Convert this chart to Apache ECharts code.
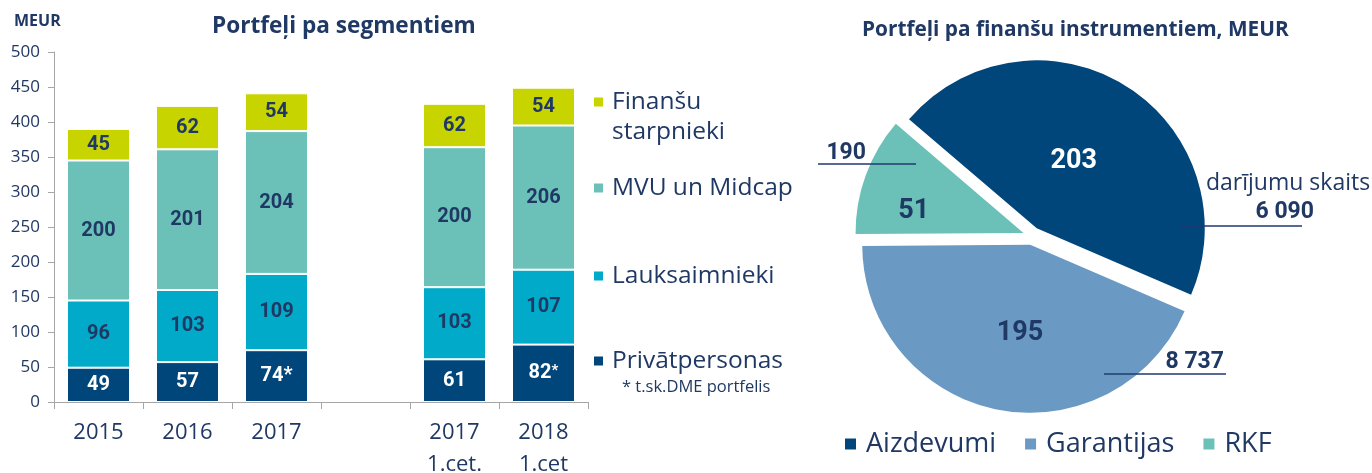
<!DOCTYPE html>
<html>
<head>
<meta charset="utf-8">
<script src="https://cdn.jsdelivr.net/npm/echarts@6/dist/echarts.min.js"></script>
<style>
  html,body{margin:0;padding:0;background:#fff;}
  #chart{width:1372px;height:473px;}
</style>
</head>
<body>
<div id="chart"></div>
<script>
/* Portfeļi pa segmentiem + pa finanšu instrumentiem */
const categories = ["2015", "2016", "2017", "", "2017\n1.cet.", "2018\n1.cet"];
const privat   = [49, 57, 74, null, 61, 82];
const lauks    = [96, 103, 109, null, 103, 107];
const mvu      = [200, 201, 204, null, 200, 206];
const finStarp = [45, 62, 54, null, 62, 54];
const privNote = ["", "", "*", "", "", "{s|*}"];
const segNames = ["Finanšu starpnieki", "MVU un Midcap", "Lauksaimnieki", "Privātpersonas"];

const instrNames = ["Aizdevumi", "Garantijas", "RKF"];
const instrValues = [203, 195, 51];
const dealCounts = [6090, 8737, 190];

const TXT = "#1f3864";
const COL = {fin:"#c8d400", mvu:"#6bc1b7", lauks:"#00aac8", priv:"#00467a", garant:"#6a9ac4"};
const REG = "Open Sans", BLD = "Roboto";
const thou = n => String(n).replace(/\B(?=(\d{3})+(?!\d))/g, " ");

const chart = echarts.init(document.getElementById("chart"), null, {renderer:"canvas"});

const barLabel = (color) => ({
  show:true, position:"inside", color, fontFamily:BLD, fontWeight:"bold", fontSize:20
});
const barSeries = (name, data, color, lblColor, fmt) => ({
  name, type:"bar", stack:"seg", data, barWidth:63,
  itemStyle:{color, borderColor:"#fff", borderWidth:1},
  label:Object.assign(barLabel(lblColor), fmt ? {formatter:fmt, rich:{s:{fontFamily:BLD, fontWeight:"bold", fontSize:15, color:lblColor, verticalAlign:"top", lineHeight:20}}} : {}),
  emphasis:{disabled:true}
});

// leģendas pozīcijas (ikonas centrs)
const legCenters = [102, 188, 276, 361];
const segLegends = segNames.map((n, i) => ({
  data:[n], left:592, top: i === 0 ? legCenters[0] - 45 : legCenters[i] - 15,
  orient:"vertical", icon:"rect", itemWidth:11, itemHeight:11, padding:0,
  selectedMode:false,
  formatter: i === 0 ? " \nFinanšu\nstarpnieki" : "{name}",
  textStyle:{fontFamily:REG, fontSize:24.5, color:TXT, lineHeight:30, padding:[0,0,0,3]}
}));

// darījumu skaita piezīmes pie pīrāga
const notePos = [
  {tx:1314, ty:212, x1:1180, x2:1302, ly:226},
  {tx:1224, ty:362, x1:1104, x2:1226, ly:374},
  {tx:866,  ty:153, x1:818,  x2:916,  ly:164}
];
const noteGraphics = [];
dealCounts.forEach((c, i) => {
  const p = notePos[i];
  noteGraphics.push({type:"text", x:p.tx, y:p.ty, z:10,
    style:{text:thou(c), font:`bold 23px ${BLD}`, fill:TXT, textAlign:"right", textVerticalAlign:"middle"}});
  noteGraphics.push({type:"line", z:10,
    shape:{x1:p.x1, y1:p.ly, x2:p.x2, y2:p.ly}, style:{stroke:"#1f3a6e", lineWidth:1.5}});
});
noteGraphics.push({type:"text", x:1206, y:183, z:10,
  style:{text:"darījumu skaits", font:`23px ${REG}`, fill:TXT, textAlign:"left", textVerticalAlign:"middle"}});

const pieColors = [COL.priv, COL.garant, COL.mvu];
const pieLblColor = ["#fff", TXT, TXT];
const piePad = [[0,18,0,0], [0,0,0,14], [0,56,0,0]];
const pieDrop = [14, 6, 16];

chart.setOption({
  animation:false,
  textStyle:{fontFamily:REG, color:TXT},
  title:[
    {text:"MEUR", left:14, top:13, padding:0, textStyle:{fontFamily:REG, fontWeight:"bold", fontSize:16, color:TXT}},
    {text:"Portfeļi pa segmentiem", left:212, top:15, padding:0, textStyle:{fontFamily:REG, fontWeight:"bold", fontSize:22.6, color:TXT}},
    {text:"Portfeļi pa finanšu instrumentiem, MEUR", left:862, top:20, padding:0, textStyle:{fontFamily:REG, fontWeight:"bold", fontSize:20.8, color:TXT}},
    {text:"* t.sk.DME portfelis", left:622, top:379, padding:0, textStyle:{fontFamily:REG, fontWeight:"normal", fontSize:16.5, color:TXT}}
  ],
  legend:[
    ...segLegends,
    {data:instrNames, left:845, top:430, orient:"horizontal", icon:"rect", itemWidth:11, itemHeight:11,
     itemGap:29, padding:0, selectedMode:false,
     textStyle:{fontFamily:REG, fontSize:27, color:TXT, lineHeight:28, padding:[0,0,0,5]}}
  ],
  grid:{left:54, top:52, width:534, height:350, containLabel:false, outerBoundsMode:"none"},
  xAxis:{type:"category", data:categories,
    axisLine:{lineStyle:{color:"#a6a6a6", width:1}},
    axisTick:{show:true, alignWithLabel:false, interval:0, length:7, lineStyle:{color:"#a6a6a6"}},
    axisLabel:{interval:0, fontFamily:REG, fontSize:22, color:TXT, lineHeight:32, margin:15}},
  yAxis:{type:"value", min:0, max:500, interval:50,
    axisLine:{show:true, lineStyle:{color:"#a6a6a6", width:1}},
    axisTick:{show:true, length:6, lineStyle:{color:"#a6a6a6"}},
    splitLine:{show:false},
    axisLabel:{fontFamily:REG, fontSize:17, color:TXT, margin:14}},
  series:[
    barSeries(segNames[3], privat, COL.priv, "#fff", p => p.value + privNote[p.dataIndex]),
    barSeries(segNames[2], lauks, COL.lauks, TXT),
    barSeries(segNames[1], mvu, COL.mvu, TXT),
    barSeries(segNames[0], finStarp, COL.fin, TXT),
    {type:"pie", center:[1032, 236], radius:168, startAngle:139.5, clockwise:true,
     selectedMode:"multiple", selectedOffset:9, avoidLabelOverlap:false,
     emphasis:{disabled:true}, labelLine:{show:false},
     data:instrNames.map((n, i) => ({
       name:n, value:instrValues[i], selected:true,
       itemStyle:{color:pieColors[i]},
       label:{show:true, position:"inside", padding:piePad[i],
              formatter:p => `{t| }\n{v|${p.value}}`,
              rich:{t:{fontSize:1, lineHeight:pieDrop[i]},
                    v:{fontFamily:BLD, fontWeight:"bold", fontSize:27, lineHeight:30, color:pieLblColor[i]}}}
     }))}
  ],
  graphic:noteGraphics
});
</script>
</body>
</html>
